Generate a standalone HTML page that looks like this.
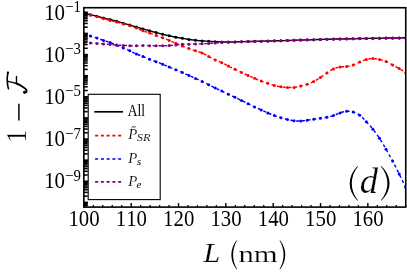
<!DOCTYPE html>
<html><head><meta charset="utf-8"><title>plot</title>
<style>html,body{margin:0;padding:0;background:#fff;font-family:"Liberation Serif",serif}svg{display:block;will-change:transform}</style>
</head><body>
<svg width="407" height="275" viewBox="0 0 407 275" font-family="Liberation Serif" style="display:block">
<rect width="407" height="275" fill="#fff"/>
<clipPath id="c"><rect x="83.85" y="7.72" width="321.9" height="199.38"/></clipPath>
<g clip-path="url(#c)">
<polyline points="83.85,13.00 84.51,13.18 85.16,13.36 85.82,13.54 86.48,13.71 87.13,13.88 87.79,14.05 88.45,14.21 89.11,14.38 89.76,14.54 90.42,14.70 91.08,14.86 91.73,15.02 92.39,15.18 93.05,15.33 93.70,15.49 94.36,15.65 95.02,15.81 95.67,15.97 96.33,16.14 96.99,16.30 97.65,16.47 98.30,16.63 98.96,16.80 99.62,16.98 100.27,17.15 100.93,17.32 101.59,17.49 102.24,17.66 102.90,17.83 103.56,18.00 104.22,18.17 104.87,18.33 105.53,18.50 106.19,18.66 106.84,18.82 107.50,18.98 108.16,19.14 108.81,19.29 109.47,19.45 110.13,19.60 110.78,19.75 111.44,19.90 112.10,20.05 112.76,20.21 113.41,20.36 114.07,20.52 114.73,20.68 115.38,20.85 116.04,21.02 116.70,21.20 117.35,21.39 118.01,21.58 118.67,21.78 119.32,21.98 119.98,22.18 120.64,22.39 121.30,22.59 121.95,22.80 122.61,23.00 123.27,23.20 123.92,23.40 124.58,23.59 125.24,23.78 125.89,23.97 126.55,24.15 127.21,24.34 127.86,24.53 128.52,24.72 129.18,24.91 129.84,25.10 130.49,25.30 131.15,25.50 131.81,25.70 132.46,25.90 133.12,26.11 133.78,26.31 134.43,26.51 135.09,26.71 135.75,26.91 136.41,27.10 137.06,27.29 137.72,27.47 138.38,27.65 139.03,27.83 139.69,28.01 140.35,28.19 141.00,28.36 141.66,28.54 142.32,28.72 142.97,28.90 143.63,29.08 144.29,29.27 144.95,29.46 145.60,29.65 146.26,29.84 146.92,30.04 147.57,30.23 148.23,30.42 148.89,30.61 149.54,30.80 150.20,30.99 150.86,31.17 151.51,31.35 152.17,31.54 152.83,31.72 153.49,31.89 154.14,32.07 154.80,32.25 155.46,32.42 156.11,32.60 156.77,32.78 157.43,32.95 158.08,33.13 158.74,33.30 159.40,33.47 160.05,33.64 160.71,33.81 161.37,33.98 162.03,34.14 162.68,34.30 163.34,34.46 164.00,34.61 164.65,34.77 165.31,34.92 165.97,35.07 166.62,35.21 167.28,35.36 167.94,35.51 168.60,35.65 169.25,35.80 169.91,35.95 170.57,36.09 171.22,36.24 171.88,36.39 172.54,36.53 173.19,36.67 173.85,36.81 174.51,36.94 175.16,37.07 175.82,37.20 176.48,37.32 177.14,37.44 177.79,37.55 178.45,37.66 179.11,37.77 179.76,37.88 180.42,37.98 181.08,38.09 181.73,38.19 182.39,38.30 183.05,38.41 183.70,38.52 184.36,38.63 185.02,38.74 185.68,38.85 186.33,38.97 186.99,39.08 187.65,39.19 188.30,39.29 188.96,39.40 189.62,39.50 190.27,39.60 190.93,39.70 191.59,39.80 192.24,39.89 192.90,39.98 193.56,40.06 194.22,40.14 194.87,40.22 195.53,40.30 196.19,40.37 196.84,40.44 197.50,40.51 198.16,40.57 198.81,40.64 199.47,40.69 200.13,40.75 200.79,40.80 201.44,40.85 202.10,40.90 202.76,40.94 203.41,40.99 204.07,41.03 204.73,41.07 205.38,41.11 206.04,41.14 206.70,41.18 207.35,41.22 208.01,41.26 208.67,41.30 209.33,41.34 209.98,41.38 210.64,41.43 211.30,41.47 211.95,41.51 212.61,41.55 213.27,41.59 213.92,41.63 214.58,41.67 215.24,41.70 215.89,41.73 216.55,41.76 217.21,41.78 217.87,41.80 218.52,41.82 219.18,41.84 219.84,41.86 220.49,41.87 221.15,41.89 221.81,41.90 222.46,41.91 223.12,41.93 223.78,41.94 224.43,41.96 225.09,41.97 225.75,41.98 226.41,41.99 227.06,41.99 227.72,42.00 228.38,42.00 229.03,42.00 229.69,42.00 230.35,41.99 231.00,41.98 231.66,41.97 232.32,41.96 232.98,41.95 233.63,41.93 234.29,41.92 234.95,41.90 235.60,41.88 236.26,41.86 236.92,41.84 237.57,41.82 238.23,41.80 238.89,41.78 239.54,41.76 240.20,41.74 240.86,41.72 241.52,41.70 242.17,41.68 242.83,41.66 243.49,41.64 244.14,41.62 244.80,41.60 245.46,41.58 246.11,41.56 246.77,41.54 247.43,41.52 248.08,41.50 248.74,41.48 249.40,41.46 250.06,41.45 250.71,41.43 251.37,41.41 252.03,41.39 252.68,41.38 253.34,41.36 254.00,41.34 254.65,41.33 255.31,41.31 255.97,41.29 256.62,41.28 257.28,41.26 257.94,41.25 258.60,41.23 259.25,41.22 259.91,41.20 260.57,41.19 261.22,41.17 261.88,41.16 262.54,41.14 263.19,41.13 263.85,41.11 264.51,41.10 265.17,41.08 265.82,41.07 266.48,41.05 267.14,41.04 267.79,41.02 268.45,41.01 269.11,40.99 269.76,40.98 270.42,40.96 271.08,40.95 271.73,40.93 272.39,40.92 273.05,40.90 273.71,40.89 274.36,40.87 275.02,40.85 275.68,40.84 276.33,40.82 276.99,40.80 277.65,40.79 278.30,40.77 278.96,40.75 279.62,40.74 280.27,40.72 280.93,40.70 281.59,40.68 282.25,40.66 282.90,40.64 283.56,40.62 284.22,40.61 284.87,40.59 285.53,40.57 286.19,40.55 286.84,40.52 287.50,40.50 288.16,40.48 288.81,40.46 289.47,40.44 290.13,40.42 290.79,40.40 291.44,40.38 292.10,40.36 292.76,40.33 293.41,40.31 294.07,40.29 294.73,40.27 295.38,40.25 296.04,40.22 296.70,40.20 297.36,40.18 298.01,40.16 298.67,40.14 299.33,40.11 299.98,40.09 300.64,40.07 301.30,40.05 301.95,40.02 302.61,40.00 303.27,39.98 303.92,39.96 304.58,39.94 305.24,39.91 305.90,39.89 306.55,39.87 307.21,39.85 307.87,39.83 308.52,39.81 309.18,39.79 309.84,39.77 310.49,39.75 311.15,39.72 311.81,39.70 312.46,39.68 313.12,39.66 313.78,39.64 314.44,39.62 315.09,39.60 315.75,39.58 316.41,39.56 317.06,39.55 317.72,39.53 318.38,39.51 319.03,39.49 319.69,39.47 320.35,39.45 321.00,39.43 321.66,39.41 322.32,39.40 322.98,39.38 323.63,39.36 324.29,39.34 324.95,39.32 325.60,39.31 326.26,39.29 326.92,39.27 327.57,39.25 328.23,39.24 328.89,39.22 329.55,39.20 330.20,39.18 330.86,39.17 331.52,39.15 332.17,39.13 332.83,39.12 333.49,39.10 334.14,39.09 334.80,39.07 335.46,39.05 336.11,39.04 336.77,39.02 337.43,39.01 338.09,38.99 338.74,38.98 339.40,38.96 340.06,38.95 340.71,38.93 341.37,38.92 342.03,38.90 342.68,38.89 343.34,38.87 344.00,38.86 344.65,38.84 345.31,38.83 345.97,38.81 346.63,38.80 347.28,38.79 347.94,38.77 348.60,38.76 349.25,38.74 349.91,38.73 350.57,38.72 351.22,38.70 351.88,38.69 352.54,38.68 353.19,38.66 353.85,38.65 354.51,38.64 355.17,38.63 355.82,38.61 356.48,38.60 357.14,38.59 357.79,38.58 358.45,38.56 359.11,38.55 359.76,38.54 360.42,38.53 361.08,38.51 361.74,38.50 362.39,38.49 363.05,38.48 363.71,38.47 364.36,38.45 365.02,38.44 365.68,38.43 366.33,38.42 366.99,38.41 367.65,38.40 368.30,38.38 368.96,38.37 369.62,38.36 370.28,38.35 370.93,38.34 371.59,38.33 372.25,38.32 372.90,38.31 373.56,38.30 374.22,38.29 374.87,38.27 375.53,38.26 376.19,38.25 376.84,38.24 377.50,38.23 378.16,38.22 378.82,38.21 379.47,38.20 380.13,38.19 380.79,38.18 381.44,38.17 382.10,38.16 382.76,38.15 383.41,38.14 384.07,38.13 384.73,38.12 385.38,38.11 386.04,38.10 386.70,38.09 387.36,38.08 388.01,38.07 388.67,38.06 389.33,38.05 389.98,38.04 390.64,38.03 391.30,38.02 391.95,38.01 392.61,38.00 393.27,37.99 393.93,37.98 394.58,37.97 395.24,37.96 395.90,37.95 396.55,37.94 397.21,37.93 397.87,37.92 398.52,37.91 399.18,37.90 399.84,37.89 400.49,37.88 401.15,37.87 401.81,37.86 402.47,37.85 403.12,37.84 403.78,37.83 404.44,37.82 405.09,37.81 405.75,37.80" fill="none" stroke="#000" stroke-width="1.45"/>
<circle cx="83.85" cy="13.00" r="1.5" fill="#000"/>
<circle cx="90.42" cy="14.70" r="1.5" fill="#000"/>
<circle cx="96.99" cy="16.30" r="1.5" fill="#000"/>
<circle cx="103.56" cy="18.00" r="1.5" fill="#000"/>
<circle cx="110.13" cy="19.60" r="1.5" fill="#000"/>
<circle cx="116.70" cy="21.20" r="1.5" fill="#000"/>
<circle cx="123.27" cy="23.20" r="1.5" fill="#000"/>
<circle cx="129.84" cy="25.10" r="1.5" fill="#000"/>
<circle cx="136.41" cy="27.10" r="1.5" fill="#000"/>
<circle cx="142.97" cy="28.90" r="1.5" fill="#000"/>
<circle cx="149.54" cy="30.80" r="1.5" fill="#000"/>
<circle cx="156.11" cy="32.60" r="1.5" fill="#000"/>
<circle cx="162.68" cy="34.30" r="1.5" fill="#000"/>
<circle cx="169.25" cy="35.80" r="1.5" fill="#000"/>
<circle cx="175.82" cy="37.20" r="1.5" fill="#000"/>
<circle cx="182.39" cy="38.30" r="1.5" fill="#000"/>
<circle cx="188.96" cy="39.40" r="1.5" fill="#000"/>
<circle cx="195.53" cy="40.30" r="1.5" fill="#000"/>
<circle cx="202.10" cy="40.90" r="1.5" fill="#000"/>
<circle cx="208.67" cy="41.30" r="1.5" fill="#000"/>
<circle cx="215.24" cy="41.70" r="1.5" fill="#000"/>
<circle cx="221.81" cy="41.90" r="1.5" fill="#000"/>
<circle cx="228.38" cy="42.00" r="1.5" fill="#000"/>
<circle cx="234.95" cy="41.90" r="1.5" fill="#000"/>
<circle cx="241.52" cy="41.70" r="1.5" fill="#000"/>
<circle cx="248.08" cy="41.50" r="1.5" fill="#000"/>
<circle cx="254.65" cy="41.33" r="1.5" fill="#000"/>
<circle cx="261.22" cy="41.17" r="1.5" fill="#000"/>
<circle cx="267.79" cy="41.02" r="1.5" fill="#000"/>
<circle cx="274.36" cy="40.87" r="1.5" fill="#000"/>
<circle cx="280.93" cy="40.70" r="1.5" fill="#000"/>
<circle cx="287.50" cy="40.50" r="1.5" fill="#000"/>
<circle cx="294.07" cy="40.29" r="1.5" fill="#000"/>
<circle cx="300.64" cy="40.07" r="1.5" fill="#000"/>
<circle cx="307.21" cy="39.85" r="1.5" fill="#000"/>
<circle cx="313.78" cy="39.64" r="1.5" fill="#000"/>
<circle cx="320.35" cy="39.45" r="1.5" fill="#000"/>
<circle cx="326.92" cy="39.27" r="1.5" fill="#000"/>
<circle cx="333.49" cy="39.10" r="1.5" fill="#000"/>
<circle cx="340.06" cy="38.95" r="1.5" fill="#000"/>
<circle cx="346.63" cy="38.80" r="1.5" fill="#000"/>
<circle cx="353.19" cy="38.66" r="1.5" fill="#000"/>
<circle cx="359.76" cy="38.54" r="1.5" fill="#000"/>
<circle cx="366.33" cy="38.42" r="1.5" fill="#000"/>
<circle cx="372.90" cy="38.31" r="1.5" fill="#000"/>
<circle cx="379.47" cy="38.20" r="1.5" fill="#000"/>
<circle cx="386.04" cy="38.10" r="1.5" fill="#000"/>
<circle cx="392.61" cy="38.00" r="1.5" fill="#000"/>
<circle cx="399.18" cy="37.90" r="1.5" fill="#000"/>
<circle cx="405.75" cy="37.80" r="1.5" fill="#000"/>
<polyline points="83.85,13.40 84.51,13.59 85.16,13.77 85.82,13.95 86.48,14.13 87.13,14.30 87.79,14.47 88.45,14.65 89.11,14.81 89.76,14.98 90.42,15.15 91.08,15.32 91.73,15.48 92.39,15.65 93.05,15.82 93.70,15.99 94.36,16.15 95.02,16.33 95.67,16.50 96.33,16.67 96.99,16.85 97.65,17.03 98.30,17.21 98.96,17.40 99.62,17.58 100.27,17.77 100.93,17.96 101.59,18.14 102.24,18.33 102.90,18.52 103.56,18.70 104.22,18.88 104.87,19.06 105.53,19.24 106.19,19.42 106.84,19.60 107.50,19.77 108.16,19.95 108.81,20.12 109.47,20.28 110.13,20.45 110.78,20.61 111.44,20.78 112.10,20.94 112.76,21.10 113.41,21.26 114.07,21.43 114.73,21.59 115.38,21.76 116.04,21.93 116.70,22.10 117.35,22.28 118.01,22.46 118.67,22.64 119.32,22.83 119.98,23.01 120.64,23.20 121.30,23.39 121.95,23.58 122.61,23.77 123.27,23.95 123.92,24.13 124.58,24.31 125.24,24.49 125.89,24.67 126.55,24.86 127.21,25.04 127.86,25.22 128.52,25.41 129.18,25.60 129.84,25.80 130.49,26.00 131.15,26.21 131.81,26.42 132.46,26.64 133.12,26.87 133.78,27.10 134.43,27.34 135.09,27.59 135.75,27.84 136.41,28.10 137.06,28.37 137.72,28.64 138.38,28.92 139.03,29.19 139.69,29.47 140.35,29.75 141.00,30.02 141.66,30.29 142.32,30.55 142.97,30.80 143.63,31.04 144.29,31.27 144.95,31.50 145.60,31.71 146.26,31.93 146.92,32.14 147.57,32.35 148.23,32.56 148.89,32.78 149.54,33.00 150.20,33.23 150.86,33.46 151.51,33.69 152.17,33.93 152.83,34.18 153.49,34.42 154.14,34.67 154.80,34.91 155.46,35.16 156.11,35.40 156.77,35.64 157.43,35.88 158.08,36.12 158.74,36.35 159.40,36.59 160.05,36.83 160.71,37.07 161.37,37.31 162.03,37.55 162.68,37.80 163.34,38.05 164.00,38.30 164.65,38.56 165.31,38.82 165.97,39.09 166.62,39.35 167.28,39.62 167.94,39.89 168.60,40.17 169.25,40.44 169.91,40.72 170.57,41.00 171.22,41.28 171.88,41.56 172.54,41.85 173.19,42.13 173.85,42.41 174.51,42.70 175.16,42.98 175.82,43.26 176.48,43.55 177.14,43.83 177.79,44.11 178.45,44.39 179.11,44.67 179.76,44.95 180.42,45.23 181.08,45.51 181.73,45.78 182.39,46.05 183.05,46.32 183.70,46.58 184.36,46.85 185.02,47.11 185.68,47.37 186.33,47.62 186.99,47.87 187.65,48.12 188.30,48.36 188.96,48.60 189.62,48.84 190.27,49.07 190.93,49.29 191.59,49.52 192.24,49.74 192.90,49.96 193.56,50.17 194.22,50.38 194.87,50.59 195.53,50.80 196.19,51.00 196.84,51.21 197.50,51.41 198.16,51.62 198.81,51.84 199.47,52.06 200.13,52.29 200.79,52.53 201.44,52.78 202.10,53.05 202.76,53.33 203.41,53.63 204.07,53.95 204.73,54.27 205.38,54.61 206.04,54.95 206.70,55.31 207.35,55.67 208.01,56.03 208.67,56.40 209.33,56.77 209.98,57.14 210.64,57.51 211.30,57.88 211.95,58.24 212.61,58.59 213.27,58.94 213.92,59.27 214.58,59.59 215.24,59.90 215.89,60.19 216.55,60.47 217.21,60.74 217.87,61.01 218.52,61.27 219.18,61.53 219.84,61.80 220.49,62.07 221.15,62.35 221.81,62.65 222.46,62.96 223.12,63.29 223.78,63.62 224.43,63.97 225.09,64.32 225.75,64.68 226.41,65.04 227.06,65.40 227.72,65.75 228.38,66.10 229.03,66.44 229.69,66.78 230.35,67.10 231.00,67.43 231.66,67.75 232.32,68.06 232.98,68.37 233.63,68.68 234.29,68.99 234.95,69.30 235.60,69.61 236.26,69.92 236.92,70.23 237.57,70.54 238.23,70.85 238.89,71.16 239.54,71.47 240.20,71.78 240.86,72.09 241.52,72.40 242.17,72.71 242.83,73.01 243.49,73.31 244.14,73.62 244.80,73.92 245.46,74.22 246.11,74.52 246.77,74.81 247.43,75.11 248.08,75.40 248.74,75.69 249.40,75.98 250.06,76.27 250.71,76.56 251.37,76.85 252.03,77.14 252.68,77.43 253.34,77.72 254.00,78.01 254.65,78.30 255.31,78.59 255.97,78.89 256.62,79.18 257.28,79.47 257.94,79.76 258.60,80.04 259.25,80.32 259.91,80.59 260.57,80.85 261.22,81.10 261.88,81.34 262.54,81.58 263.19,81.80 263.85,82.02 264.51,82.24 265.17,82.45 265.82,82.66 266.48,82.87 267.14,83.08 267.79,83.30 268.45,83.52 269.11,83.74 269.76,83.97 270.42,84.19 271.08,84.42 271.73,84.64 272.39,84.85 273.05,85.06 273.71,85.26 274.36,85.45 275.02,85.63 275.68,85.80 276.33,85.96 276.99,86.11 277.65,86.24 278.30,86.37 278.96,86.49 279.62,86.60 280.27,86.71 280.93,86.80 281.59,86.89 282.25,86.97 282.90,87.04 283.56,87.10 284.22,87.16 284.87,87.22 285.53,87.27 286.19,87.32 286.84,87.36 287.50,87.40 288.16,87.44 288.81,87.47 289.47,87.50 290.13,87.52 290.79,87.53 291.44,87.53 292.10,87.52 292.76,87.50 293.41,87.46 294.07,87.40 294.73,87.33 295.38,87.24 296.04,87.13 296.70,87.01 297.36,86.88 298.01,86.74 298.67,86.59 299.33,86.43 299.98,86.27 300.64,86.10 301.30,85.93 301.95,85.76 302.61,85.58 303.27,85.40 303.92,85.21 304.58,85.02 305.24,84.82 305.90,84.62 306.55,84.41 307.21,84.20 307.87,83.98 308.52,83.75 309.18,83.51 309.84,83.26 310.49,83.00 311.15,82.73 311.81,82.45 312.46,82.15 313.12,81.83 313.78,81.50 314.44,81.15 315.09,80.79 315.75,80.41 316.41,80.01 317.06,79.61 317.72,79.19 318.38,78.77 319.03,78.33 319.69,77.89 320.35,77.45 321.00,77.00 321.66,76.55 322.32,76.10 322.98,75.64 323.63,75.19 324.29,74.73 324.95,74.27 325.60,73.81 326.26,73.36 326.92,72.90 327.57,72.45 328.23,72.00 328.89,71.55 329.55,71.12 330.20,70.70 330.86,70.30 331.52,69.92 332.17,69.55 332.83,69.21 333.49,68.90 334.14,68.62 334.80,68.36 335.46,68.13 336.11,67.93 336.77,67.74 337.43,67.58 338.09,67.44 338.74,67.31 339.40,67.20 340.06,67.10 340.71,67.01 341.37,66.94 342.03,66.87 342.68,66.80 343.34,66.74 344.00,66.68 344.65,66.62 345.31,66.55 345.97,66.48 346.63,66.40 347.28,66.31 347.94,66.21 348.60,66.10 349.25,65.98 349.91,65.84 350.57,65.68 351.22,65.52 351.88,65.33 352.54,65.12 353.19,64.90 353.85,64.66 354.51,64.40 355.17,64.12 355.82,63.83 356.48,63.53 357.14,63.23 357.79,62.92 358.45,62.61 359.11,62.30 359.76,62.00 360.42,61.70 361.08,61.41 361.74,61.13 362.39,60.86 363.05,60.60 363.71,60.35 364.36,60.12 365.02,59.90 365.68,59.69 366.33,59.50 366.99,59.33 367.65,59.17 368.30,59.03 368.96,58.91 369.62,58.81 370.28,58.73 370.93,58.67 371.59,58.62 372.25,58.60 372.90,58.60 373.56,58.62 374.22,58.66 374.87,58.72 375.53,58.79 376.19,58.88 376.84,58.98 377.50,59.10 378.16,59.22 378.82,59.36 379.47,59.50 380.13,59.65 380.79,59.81 381.44,59.97 382.10,60.15 382.76,60.34 383.41,60.54 384.07,60.75 384.73,60.98 385.38,61.23 386.04,61.50 386.70,61.79 387.36,62.09 388.01,62.41 388.67,62.74 389.33,63.09 389.98,63.44 390.64,63.80 391.30,64.17 391.95,64.53 392.61,64.90 393.27,65.26 393.93,65.63 394.58,65.99 395.24,66.36 395.90,66.72 396.55,67.09 397.21,67.46 397.87,67.83 398.52,68.21 399.18,68.60 399.84,68.99 400.49,69.39 401.15,69.80 401.81,70.22 402.47,70.65 403.12,71.10 403.78,71.55 404.44,72.02 405.09,72.50 405.75,73.00" fill="none" stroke="#ff0000" stroke-width="1.45" stroke-dasharray="3.05 2.7"/>
<circle cx="83.85" cy="13.40" r="1.5" fill="#ff0000"/>
<circle cx="90.42" cy="15.15" r="1.5" fill="#ff0000"/>
<circle cx="96.99" cy="16.85" r="1.5" fill="#ff0000"/>
<circle cx="103.56" cy="18.70" r="1.5" fill="#ff0000"/>
<circle cx="110.13" cy="20.45" r="1.5" fill="#ff0000"/>
<circle cx="116.70" cy="22.10" r="1.5" fill="#ff0000"/>
<circle cx="123.27" cy="23.95" r="1.5" fill="#ff0000"/>
<circle cx="129.84" cy="25.80" r="1.5" fill="#ff0000"/>
<circle cx="136.41" cy="28.10" r="1.5" fill="#ff0000"/>
<circle cx="142.97" cy="30.80" r="1.5" fill="#ff0000"/>
<circle cx="149.54" cy="33.00" r="1.5" fill="#ff0000"/>
<circle cx="156.11" cy="35.40" r="1.5" fill="#ff0000"/>
<circle cx="162.68" cy="37.80" r="1.5" fill="#ff0000"/>
<circle cx="169.25" cy="40.44" r="1.5" fill="#ff0000"/>
<circle cx="175.82" cy="43.26" r="1.5" fill="#ff0000"/>
<circle cx="182.39" cy="46.05" r="1.5" fill="#ff0000"/>
<circle cx="188.96" cy="48.60" r="1.5" fill="#ff0000"/>
<circle cx="195.53" cy="50.80" r="1.5" fill="#ff0000"/>
<circle cx="202.10" cy="53.05" r="1.5" fill="#ff0000"/>
<circle cx="208.67" cy="56.40" r="1.5" fill="#ff0000"/>
<circle cx="215.24" cy="59.90" r="1.5" fill="#ff0000"/>
<circle cx="221.81" cy="62.65" r="1.5" fill="#ff0000"/>
<circle cx="228.38" cy="66.10" r="1.5" fill="#ff0000"/>
<circle cx="234.95" cy="69.30" r="1.5" fill="#ff0000"/>
<circle cx="241.52" cy="72.40" r="1.5" fill="#ff0000"/>
<circle cx="248.08" cy="75.40" r="1.5" fill="#ff0000"/>
<circle cx="254.65" cy="78.30" r="1.5" fill="#ff0000"/>
<circle cx="261.22" cy="81.10" r="1.5" fill="#ff0000"/>
<circle cx="267.79" cy="83.30" r="1.5" fill="#ff0000"/>
<circle cx="274.36" cy="85.45" r="1.5" fill="#ff0000"/>
<circle cx="280.93" cy="86.80" r="1.5" fill="#ff0000"/>
<circle cx="287.50" cy="87.40" r="1.5" fill="#ff0000"/>
<circle cx="294.07" cy="87.40" r="1.5" fill="#ff0000"/>
<circle cx="300.64" cy="86.10" r="1.5" fill="#ff0000"/>
<circle cx="307.21" cy="84.20" r="1.5" fill="#ff0000"/>
<circle cx="313.78" cy="81.50" r="1.5" fill="#ff0000"/>
<circle cx="320.35" cy="77.45" r="1.5" fill="#ff0000"/>
<circle cx="326.92" cy="72.90" r="1.5" fill="#ff0000"/>
<circle cx="333.49" cy="68.90" r="1.5" fill="#ff0000"/>
<circle cx="340.06" cy="67.10" r="1.5" fill="#ff0000"/>
<circle cx="346.63" cy="66.40" r="1.5" fill="#ff0000"/>
<circle cx="353.19" cy="64.90" r="1.5" fill="#ff0000"/>
<circle cx="359.76" cy="62.00" r="1.5" fill="#ff0000"/>
<circle cx="366.33" cy="59.50" r="1.5" fill="#ff0000"/>
<circle cx="372.90" cy="58.60" r="1.5" fill="#ff0000"/>
<circle cx="379.47" cy="59.50" r="1.5" fill="#ff0000"/>
<circle cx="386.04" cy="61.50" r="1.5" fill="#ff0000"/>
<circle cx="392.61" cy="64.90" r="1.5" fill="#ff0000"/>
<circle cx="399.18" cy="68.60" r="1.5" fill="#ff0000"/>
<circle cx="405.75" cy="73.00" r="1.5" fill="#ff0000"/>
<polyline points="83.85,33.80 84.51,34.07 85.16,34.33 85.82,34.58 86.48,34.82 87.13,35.05 87.79,35.27 88.45,35.49 89.11,35.70 89.76,35.90 90.42,36.10 91.08,36.30 91.73,36.49 92.39,36.68 93.05,36.88 93.70,37.07 94.36,37.27 95.02,37.47 95.67,37.67 96.33,37.88 96.99,38.10 97.65,38.32 98.30,38.55 98.96,38.78 99.62,39.02 100.27,39.26 100.93,39.49 101.59,39.73 102.24,39.96 102.90,40.18 103.56,40.40 104.22,40.61 104.87,40.81 105.53,41.01 106.19,41.21 106.84,41.41 107.50,41.61 108.16,41.82 108.81,42.04 109.47,42.26 110.13,42.50 110.78,42.75 111.44,43.02 112.10,43.29 112.76,43.57 113.41,43.86 114.07,44.15 114.73,44.44 115.38,44.73 116.04,45.02 116.70,45.30 117.35,45.57 118.01,45.84 118.67,46.11 119.32,46.36 119.98,46.62 120.64,46.87 121.30,47.13 121.95,47.38 122.61,47.64 123.27,47.90 123.92,48.16 124.58,48.43 125.24,48.71 125.89,48.99 126.55,49.28 127.21,49.57 127.86,49.87 128.52,50.17 129.18,50.48 129.84,50.80 130.49,51.12 131.15,51.45 131.81,51.79 132.46,52.12 133.12,52.45 133.78,52.78 134.43,53.10 135.09,53.41 135.75,53.71 136.41,54.00 137.06,54.28 137.72,54.54 138.38,54.79 139.03,55.04 139.69,55.28 140.35,55.52 141.00,55.76 141.66,56.00 142.32,56.24 142.97,56.50 143.63,56.77 144.29,57.04 144.95,57.32 145.60,57.60 146.26,57.89 146.92,58.18 147.57,58.47 148.23,58.75 148.89,59.03 149.54,59.30 150.20,59.56 150.86,59.82 151.51,60.06 152.17,60.31 152.83,60.54 153.49,60.78 154.14,61.01 154.80,61.24 155.46,61.47 156.11,61.70 156.77,61.93 157.43,62.17 158.08,62.41 158.74,62.65 159.40,62.89 160.05,63.14 160.71,63.40 161.37,63.66 162.03,63.93 162.68,64.20 163.34,64.48 164.00,64.76 164.65,65.05 165.31,65.35 165.97,65.64 166.62,65.94 167.28,66.23 167.94,66.52 168.60,66.81 169.25,67.10 169.91,67.38 170.57,67.66 171.22,67.93 171.88,68.20 172.54,68.47 173.19,68.73 173.85,69.00 174.51,69.26 175.16,69.53 175.82,69.80 176.48,70.07 177.14,70.34 177.79,70.62 178.45,70.90 179.11,71.18 179.76,71.46 180.42,71.74 181.08,72.03 181.73,72.31 182.39,72.60 183.05,72.89 183.70,73.18 184.36,73.47 185.02,73.76 185.68,74.05 186.33,74.34 186.99,74.63 187.65,74.92 188.30,75.21 188.96,75.50 189.62,75.79 190.27,76.07 190.93,76.36 191.59,76.65 192.24,76.94 192.90,77.23 193.56,77.52 194.22,77.81 194.87,78.10 195.53,78.40 196.19,78.70 196.84,79.00 197.50,79.31 198.16,79.62 198.81,79.93 199.47,80.24 200.13,80.56 200.79,80.87 201.44,81.18 202.10,81.50 202.76,81.82 203.41,82.13 204.07,82.45 204.73,82.76 205.38,83.08 206.04,83.40 206.70,83.72 207.35,84.05 208.01,84.37 208.67,84.70 209.33,85.03 209.98,85.36 210.64,85.70 211.30,86.03 211.95,86.36 212.61,86.69 213.27,87.03 213.92,87.35 214.58,87.68 215.24,88.00 215.89,88.32 216.55,88.63 217.21,88.94 217.87,89.25 218.52,89.55 219.18,89.86 219.84,90.17 220.49,90.48 221.15,90.79 221.81,91.10 222.46,91.42 223.12,91.74 223.78,92.06 224.43,92.38 225.09,92.71 225.75,93.03 226.41,93.35 227.06,93.67 227.72,93.99 228.38,94.30 229.03,94.61 229.69,94.91 230.35,95.21 231.00,95.50 231.66,95.80 232.32,96.10 232.98,96.39 233.63,96.69 234.29,96.99 234.95,97.30 235.60,97.61 236.26,97.93 236.92,98.25 237.57,98.57 238.23,98.89 238.89,99.21 239.54,99.54 240.20,99.86 240.86,100.18 241.52,100.50 242.17,100.81 242.83,101.13 243.49,101.44 244.14,101.75 244.80,102.06 245.46,102.37 246.11,102.68 246.77,103.00 247.43,103.32 248.08,103.65 248.74,103.98 249.40,104.32 250.06,104.66 250.71,105.00 251.37,105.35 252.03,105.69 252.68,106.02 253.34,106.36 254.00,106.68 254.65,107.00 255.31,107.31 255.97,107.61 256.62,107.90 257.28,108.19 257.94,108.48 258.60,108.76 259.25,109.04 259.91,109.32 260.57,109.61 261.22,109.90 261.88,110.19 262.54,110.49 263.19,110.80 263.85,111.10 264.51,111.41 265.17,111.71 265.82,112.01 266.48,112.31 267.14,112.61 267.79,112.90 268.45,113.18 269.11,113.46 269.76,113.73 270.42,114.00 271.08,114.26 271.73,114.52 272.39,114.77 273.05,115.02 273.71,115.26 274.36,115.50 275.02,115.74 275.68,115.97 276.33,116.20 276.99,116.42 277.65,116.64 278.30,116.86 278.96,117.08 279.62,117.29 280.27,117.50 280.93,117.70 281.59,117.90 282.25,118.10 282.90,118.29 283.56,118.48 284.22,118.66 284.87,118.84 285.53,119.01 286.19,119.18 286.84,119.34 287.50,119.50 288.16,119.65 288.81,119.80 289.47,119.93 290.13,120.07 290.79,120.19 291.44,120.31 292.10,120.42 292.76,120.52 293.41,120.61 294.07,120.70 294.73,120.78 295.38,120.85 296.04,120.91 296.70,120.95 297.36,120.99 298.01,121.02 298.67,121.03 299.33,121.04 299.98,121.03 300.64,121.00 301.30,120.96 301.95,120.91 302.61,120.84 303.27,120.77 303.92,120.69 304.58,120.60 305.24,120.50 305.90,120.40 306.55,120.30 307.21,120.20 307.87,120.10 308.52,119.99 309.18,119.89 309.84,119.79 310.49,119.69 311.15,119.59 311.81,119.49 312.46,119.39 313.12,119.30 313.78,119.20 314.44,119.11 315.09,119.01 315.75,118.92 316.41,118.83 317.06,118.74 317.72,118.65 318.38,118.56 319.03,118.47 319.69,118.39 320.35,118.30 321.00,118.21 321.66,118.13 322.32,118.04 322.98,117.95 323.63,117.85 324.29,117.76 324.95,117.65 325.60,117.54 326.26,117.43 326.92,117.30 327.57,117.17 328.23,117.02 328.89,116.87 329.55,116.71 330.20,116.53 330.86,116.35 331.52,116.15 332.17,115.95 332.83,115.73 333.49,115.50 334.14,115.26 334.80,115.01 335.46,114.75 336.11,114.48 336.77,114.22 337.43,113.95 338.09,113.68 338.74,113.41 339.40,113.15 340.06,112.90 340.71,112.66 341.37,112.42 342.03,112.21 342.68,112.00 343.34,111.82 344.00,111.65 344.65,111.51 345.31,111.40 345.97,111.31 346.63,111.25 347.28,111.22 347.94,111.22 348.60,111.25 349.25,111.31 349.91,111.39 350.57,111.49 351.22,111.62 351.88,111.76 352.54,111.92 353.19,112.10 353.85,112.29 354.51,112.50 355.17,112.73 355.82,112.98 356.48,113.26 357.14,113.58 357.79,113.92 358.45,114.31 359.11,114.73 359.76,115.20 360.42,115.72 361.08,116.28 361.74,116.87 362.39,117.50 363.05,118.16 363.71,118.84 364.36,119.54 365.02,120.26 365.68,120.98 366.33,121.70 366.99,122.42 367.65,123.15 368.30,123.87 368.96,124.60 369.62,125.34 370.28,126.09 370.93,126.84 371.59,127.61 372.25,128.40 372.90,129.20 373.56,130.02 374.22,130.86 374.87,131.72 375.53,132.60 376.19,133.50 376.84,134.42 377.50,135.36 378.16,136.32 378.82,137.30 379.47,138.30 380.13,139.32 380.79,140.36 381.44,141.42 382.10,142.49 382.76,143.58 383.41,144.68 384.07,145.80 384.73,146.92 385.38,148.06 386.04,149.20 386.70,150.35 387.36,151.51 388.01,152.68 388.67,153.85 389.33,155.03 389.98,156.23 390.64,157.43 391.30,158.64 391.95,159.87 392.61,161.10 393.27,162.35 393.93,163.60 394.58,164.87 395.24,166.15 395.90,167.44 396.55,168.74 397.21,170.04 397.87,171.35 398.52,172.67 399.18,174.00 399.84,175.33 400.49,176.67 401.15,178.01 401.81,179.36 402.47,180.71 403.12,182.06 403.78,183.42 404.44,184.78 405.09,186.14 405.75,187.50" fill="none" stroke="#0000ff" stroke-width="1.45" stroke-dasharray="3.05 2.7"/>
<circle cx="83.85" cy="33.80" r="1.5" fill="#0000ff"/>
<circle cx="90.42" cy="36.10" r="1.5" fill="#0000ff"/>
<circle cx="96.99" cy="38.10" r="1.5" fill="#0000ff"/>
<circle cx="103.56" cy="40.40" r="1.5" fill="#0000ff"/>
<circle cx="110.13" cy="42.50" r="1.5" fill="#0000ff"/>
<circle cx="116.70" cy="45.30" r="1.5" fill="#0000ff"/>
<circle cx="123.27" cy="47.90" r="1.5" fill="#0000ff"/>
<circle cx="129.84" cy="50.80" r="1.5" fill="#0000ff"/>
<circle cx="136.41" cy="54.00" r="1.5" fill="#0000ff"/>
<circle cx="142.97" cy="56.50" r="1.5" fill="#0000ff"/>
<circle cx="149.54" cy="59.30" r="1.5" fill="#0000ff"/>
<circle cx="156.11" cy="61.70" r="1.5" fill="#0000ff"/>
<circle cx="162.68" cy="64.20" r="1.5" fill="#0000ff"/>
<circle cx="169.25" cy="67.10" r="1.5" fill="#0000ff"/>
<circle cx="175.82" cy="69.80" r="1.5" fill="#0000ff"/>
<circle cx="182.39" cy="72.60" r="1.5" fill="#0000ff"/>
<circle cx="188.96" cy="75.50" r="1.5" fill="#0000ff"/>
<circle cx="195.53" cy="78.40" r="1.5" fill="#0000ff"/>
<circle cx="202.10" cy="81.50" r="1.5" fill="#0000ff"/>
<circle cx="208.67" cy="84.70" r="1.5" fill="#0000ff"/>
<circle cx="215.24" cy="88.00" r="1.5" fill="#0000ff"/>
<circle cx="221.81" cy="91.10" r="1.5" fill="#0000ff"/>
<circle cx="228.38" cy="94.30" r="1.5" fill="#0000ff"/>
<circle cx="234.95" cy="97.30" r="1.5" fill="#0000ff"/>
<circle cx="241.52" cy="100.50" r="1.5" fill="#0000ff"/>
<circle cx="248.08" cy="103.65" r="1.5" fill="#0000ff"/>
<circle cx="254.65" cy="107.00" r="1.5" fill="#0000ff"/>
<circle cx="261.22" cy="109.90" r="1.5" fill="#0000ff"/>
<circle cx="267.79" cy="112.90" r="1.5" fill="#0000ff"/>
<circle cx="274.36" cy="115.50" r="1.5" fill="#0000ff"/>
<circle cx="280.93" cy="117.70" r="1.5" fill="#0000ff"/>
<circle cx="287.50" cy="119.50" r="1.5" fill="#0000ff"/>
<circle cx="294.07" cy="120.70" r="1.5" fill="#0000ff"/>
<circle cx="300.64" cy="121.00" r="1.5" fill="#0000ff"/>
<circle cx="307.21" cy="120.20" r="1.5" fill="#0000ff"/>
<circle cx="313.78" cy="119.20" r="1.5" fill="#0000ff"/>
<circle cx="320.35" cy="118.30" r="1.5" fill="#0000ff"/>
<circle cx="326.92" cy="117.30" r="1.5" fill="#0000ff"/>
<circle cx="333.49" cy="115.50" r="1.5" fill="#0000ff"/>
<circle cx="340.06" cy="112.90" r="1.5" fill="#0000ff"/>
<circle cx="346.63" cy="111.25" r="1.5" fill="#0000ff"/>
<circle cx="353.19" cy="112.10" r="1.5" fill="#0000ff"/>
<circle cx="359.76" cy="115.20" r="1.5" fill="#0000ff"/>
<circle cx="366.33" cy="121.70" r="1.5" fill="#0000ff"/>
<circle cx="372.90" cy="129.20" r="1.5" fill="#0000ff"/>
<circle cx="379.47" cy="138.30" r="1.5" fill="#0000ff"/>
<circle cx="386.04" cy="149.20" r="1.5" fill="#0000ff"/>
<circle cx="392.61" cy="161.10" r="1.5" fill="#0000ff"/>
<circle cx="399.18" cy="174.00" r="1.5" fill="#0000ff"/>
<circle cx="405.75" cy="187.50" r="1.5" fill="#0000ff"/>
<polyline points="83.85,42.60 84.51,42.64 85.16,42.68 85.82,42.72 86.48,42.76 87.13,42.80 87.79,42.84 88.45,42.88 89.11,42.92 89.76,42.96 90.42,43.00 91.08,43.04 91.73,43.08 92.39,43.12 93.05,43.16 93.70,43.20 94.36,43.25 95.02,43.29 95.67,43.33 96.33,43.37 96.99,43.42 97.65,43.46 98.30,43.51 98.96,43.55 99.62,43.60 100.27,43.65 100.93,43.70 101.59,43.75 102.24,43.80 102.90,43.85 103.56,43.90 104.22,43.95 104.87,44.01 105.53,44.06 106.19,44.12 106.84,44.17 107.50,44.23 108.16,44.29 108.81,44.34 109.47,44.40 110.13,44.46 110.78,44.52 111.44,44.57 112.10,44.63 112.76,44.68 113.41,44.74 114.07,44.79 114.73,44.85 115.38,44.90 116.04,44.95 116.70,45.00 117.35,45.05 118.01,45.10 118.67,45.14 119.32,45.18 119.98,45.23 120.64,45.27 121.30,45.31 121.95,45.34 122.61,45.38 123.27,45.41 123.92,45.45 124.58,45.48 125.24,45.51 125.89,45.53 126.55,45.56 127.21,45.58 127.86,45.60 128.52,45.62 129.18,45.64 129.84,45.66 130.49,45.67 131.15,45.68 131.81,45.69 132.46,45.70 133.12,45.70 133.78,45.71 134.43,45.71 135.09,45.71 135.75,45.71 136.41,45.70 137.06,45.69 137.72,45.68 138.38,45.67 139.03,45.66 139.69,45.65 140.35,45.64 141.00,45.63 141.66,45.62 142.32,45.61 142.97,45.60 143.63,45.60 144.29,45.59 144.95,45.59 145.60,45.60 146.26,45.60 146.92,45.61 147.57,45.61 148.23,45.62 148.89,45.63 149.54,45.64 150.20,45.65 150.86,45.66 151.51,45.68 152.17,45.69 152.83,45.70 153.49,45.71 154.14,45.73 154.80,45.74 155.46,45.75 156.11,45.76 156.77,45.77 157.43,45.78 158.08,45.79 158.74,45.80 159.40,45.81 160.05,45.81 160.71,45.81 161.37,45.81 162.03,45.81 162.68,45.81 163.34,45.80 164.00,45.79 164.65,45.78 165.31,45.77 165.97,45.75 166.62,45.73 167.28,45.70 167.94,45.67 168.60,45.64 169.25,45.61 169.91,45.57 170.57,45.52 171.22,45.47 171.88,45.42 172.54,45.36 173.19,45.30 173.85,45.23 174.51,45.16 175.16,45.08 175.82,45.00 176.48,44.91 177.14,44.82 177.79,44.72 178.45,44.63 179.11,44.54 179.76,44.45 180.42,44.38 181.08,44.30 181.73,44.25 182.39,44.20 183.05,44.17 183.70,44.15 184.36,44.14 185.02,44.14 185.68,44.15 186.33,44.16 186.99,44.17 187.65,44.19 188.30,44.20 188.96,44.20 189.62,44.20 190.27,44.19 190.93,44.17 191.59,44.15 192.24,44.13 192.90,44.11 193.56,44.08 194.22,44.05 194.87,44.03 195.53,44.00 196.19,43.98 196.84,43.95 197.50,43.93 198.16,43.91 198.81,43.90 199.47,43.88 200.13,43.86 200.79,43.84 201.44,43.82 202.10,43.80 202.76,43.78 203.41,43.75 204.07,43.73 204.73,43.70 205.38,43.67 206.04,43.64 206.70,43.61 207.35,43.58 208.01,43.54 208.67,43.50 209.33,43.46 209.98,43.41 210.64,43.37 211.30,43.32 211.95,43.27 212.61,43.22 213.27,43.17 213.92,43.12 214.58,43.07 215.24,43.01 215.89,42.96 216.55,42.91 217.21,42.85 217.87,42.80 218.52,42.75 219.18,42.70 219.84,42.64 220.49,42.59 221.15,42.55 221.81,42.50 222.46,42.46 223.12,42.41 223.78,42.37 224.43,42.33 225.09,42.29 225.75,42.26 226.41,42.22 227.06,42.19 227.72,42.16 228.38,42.13 229.03,42.10 229.69,42.07 230.35,42.04 231.00,42.02 231.66,41.99 232.32,41.97 232.98,41.95 233.63,41.93 234.29,41.91 234.95,41.89 235.60,41.87 236.26,41.85 236.92,41.83 237.57,41.82 238.23,41.80 238.89,41.78 239.54,41.77 240.20,41.75 240.86,41.74 241.52,41.73 242.17,41.71 242.83,41.70 243.49,41.69 244.14,41.68 244.80,41.66 245.46,41.65 246.11,41.64 246.77,41.63 247.43,41.61 248.08,41.60 248.74,41.59 249.40,41.57 250.06,41.56 250.71,41.55 251.37,41.53 252.03,41.52 252.68,41.51 253.34,41.49 254.00,41.48 254.65,41.46 255.31,41.45 255.97,41.43 256.62,41.42 257.28,41.40 257.94,41.39 258.60,41.37 259.25,41.36 259.91,41.34 260.57,41.32 261.22,41.31 261.88,41.29 262.54,41.27 263.19,41.26 263.85,41.24 264.51,41.22 265.17,41.21 265.82,41.19 266.48,41.17 267.14,41.15 267.79,41.14 268.45,41.12 269.11,41.10 269.76,41.08 270.42,41.06 271.08,41.04 271.73,41.03 272.39,41.01 273.05,40.99 273.71,40.97 274.36,40.95 275.02,40.93 275.68,40.91 276.33,40.89 276.99,40.87 277.65,40.85 278.30,40.83 278.96,40.81 279.62,40.79 280.27,40.77 280.93,40.75 281.59,40.73 282.25,40.71 282.90,40.69 283.56,40.67 284.22,40.65 284.87,40.62 285.53,40.60 286.19,40.58 286.84,40.56 287.50,40.54 288.16,40.52 288.81,40.50 289.47,40.48 290.13,40.45 290.79,40.43 291.44,40.41 292.10,40.39 292.76,40.37 293.41,40.35 294.07,40.32 294.73,40.30 295.38,40.28 296.04,40.26 296.70,40.24 297.36,40.22 298.01,40.19 298.67,40.17 299.33,40.15 299.98,40.13 300.64,40.11 301.30,40.09 301.95,40.07 302.61,40.05 303.27,40.02 303.92,40.00 304.58,39.98 305.24,39.96 305.90,39.94 306.55,39.92 307.21,39.90 307.87,39.88 308.52,39.86 309.18,39.84 309.84,39.82 310.49,39.80 311.15,39.78 311.81,39.76 312.46,39.74 313.12,39.72 313.78,39.70 314.44,39.68 315.09,39.67 315.75,39.65 316.41,39.63 317.06,39.61 317.72,39.59 318.38,39.57 319.03,39.55 319.69,39.54 320.35,39.52 321.00,39.50 321.66,39.48 322.32,39.47 322.98,39.45 323.63,39.43 324.29,39.41 324.95,39.40 325.60,39.38 326.26,39.36 326.92,39.35 327.57,39.33 328.23,39.31 328.89,39.30 329.55,39.28 330.20,39.26 330.86,39.25 331.52,39.23 332.17,39.22 332.83,39.20 333.49,39.19 334.14,39.17 334.80,39.16 335.46,39.14 336.11,39.13 336.77,39.11 337.43,39.10 338.09,39.08 338.74,39.07 339.40,39.05 340.06,39.04 340.71,39.02 341.37,39.01 342.03,39.00 342.68,38.98 343.34,38.97 344.00,38.95 344.65,38.94 345.31,38.93 345.97,38.91 346.63,38.90 347.28,38.89 347.94,38.87 348.60,38.86 349.25,38.85 349.91,38.84 350.57,38.82 351.22,38.81 351.88,38.80 352.54,38.79 353.19,38.77 353.85,38.76 354.51,38.75 355.17,38.74 355.82,38.73 356.48,38.71 357.14,38.70 357.79,38.69 358.45,38.68 359.11,38.67 359.76,38.66 360.42,38.64 361.08,38.63 361.74,38.62 362.39,38.61 363.05,38.60 363.71,38.59 364.36,38.58 365.02,38.57 365.68,38.56 366.33,38.55 366.99,38.54 367.65,38.53 368.30,38.52 368.96,38.51 369.62,38.50 370.28,38.49 370.93,38.48 371.59,38.47 372.25,38.46 372.90,38.45 373.56,38.44 374.22,38.43 374.87,38.42 375.53,38.41 376.19,38.40 376.84,38.39 377.50,38.38 378.16,38.37 378.82,38.36 379.47,38.35 380.13,38.34 380.79,38.33 381.44,38.32 382.10,38.31 382.76,38.30 383.41,38.29 384.07,38.29 384.73,38.28 385.38,38.27 386.04,38.26 386.70,38.25 387.36,38.24 388.01,38.23 388.67,38.22 389.33,38.21 389.98,38.21 390.64,38.20 391.30,38.19 391.95,38.18 392.61,38.17 393.27,38.16 393.93,38.15 394.58,38.15 395.24,38.14 395.90,38.13 396.55,38.12 397.21,38.11 397.87,38.10 398.52,38.09 399.18,38.09 399.84,38.08 400.49,38.07 401.15,38.06 401.81,38.05 402.47,38.04 403.12,38.03 403.78,38.03 404.44,38.02 405.09,38.01 405.75,38.00" fill="none" stroke="#800080" stroke-width="1.45" stroke-dasharray="3.05 2.7"/>
<circle cx="83.85" cy="42.60" r="1.5" fill="#800080"/>
<circle cx="90.42" cy="43.00" r="1.5" fill="#800080"/>
<circle cx="96.99" cy="43.42" r="1.5" fill="#800080"/>
<circle cx="103.56" cy="43.90" r="1.5" fill="#800080"/>
<circle cx="110.13" cy="44.46" r="1.5" fill="#800080"/>
<circle cx="116.70" cy="45.00" r="1.5" fill="#800080"/>
<circle cx="123.27" cy="45.41" r="1.5" fill="#800080"/>
<circle cx="129.84" cy="45.66" r="1.5" fill="#800080"/>
<circle cx="136.41" cy="45.70" r="1.5" fill="#800080"/>
<circle cx="142.97" cy="45.60" r="1.5" fill="#800080"/>
<circle cx="149.54" cy="45.64" r="1.5" fill="#800080"/>
<circle cx="156.11" cy="45.76" r="1.5" fill="#800080"/>
<circle cx="162.68" cy="45.81" r="1.5" fill="#800080"/>
<circle cx="169.25" cy="45.61" r="1.5" fill="#800080"/>
<circle cx="175.82" cy="45.00" r="1.5" fill="#800080"/>
<circle cx="182.39" cy="44.20" r="1.5" fill="#800080"/>
<circle cx="188.96" cy="44.20" r="1.5" fill="#800080"/>
<circle cx="195.53" cy="44.00" r="1.5" fill="#800080"/>
<circle cx="202.10" cy="43.80" r="1.5" fill="#800080"/>
<circle cx="208.67" cy="43.50" r="1.5" fill="#800080"/>
<circle cx="215.24" cy="43.01" r="1.5" fill="#800080"/>
<circle cx="221.81" cy="42.50" r="1.5" fill="#800080"/>
<circle cx="228.38" cy="42.13" r="1.5" fill="#800080"/>
<circle cx="234.95" cy="41.89" r="1.5" fill="#800080"/>
<circle cx="241.52" cy="41.73" r="1.5" fill="#800080"/>
<circle cx="248.08" cy="41.60" r="1.5" fill="#800080"/>
<circle cx="254.65" cy="41.46" r="1.5" fill="#800080"/>
<circle cx="261.22" cy="41.31" r="1.5" fill="#800080"/>
<circle cx="267.79" cy="41.14" r="1.5" fill="#800080"/>
<circle cx="274.36" cy="40.95" r="1.5" fill="#800080"/>
<circle cx="280.93" cy="40.75" r="1.5" fill="#800080"/>
<circle cx="287.50" cy="40.54" r="1.5" fill="#800080"/>
<circle cx="294.07" cy="40.32" r="1.5" fill="#800080"/>
<circle cx="300.64" cy="40.11" r="1.5" fill="#800080"/>
<circle cx="307.21" cy="39.90" r="1.5" fill="#800080"/>
<circle cx="313.78" cy="39.70" r="1.5" fill="#800080"/>
<circle cx="320.35" cy="39.52" r="1.5" fill="#800080"/>
<circle cx="326.92" cy="39.35" r="1.5" fill="#800080"/>
<circle cx="333.49" cy="39.19" r="1.5" fill="#800080"/>
<circle cx="340.06" cy="39.04" r="1.5" fill="#800080"/>
<circle cx="346.63" cy="38.90" r="1.5" fill="#800080"/>
<circle cx="353.19" cy="38.77" r="1.5" fill="#800080"/>
<circle cx="359.76" cy="38.66" r="1.5" fill="#800080"/>
<circle cx="366.33" cy="38.55" r="1.5" fill="#800080"/>
<circle cx="372.90" cy="38.45" r="1.5" fill="#800080"/>
<circle cx="379.47" cy="38.35" r="1.5" fill="#800080"/>
<circle cx="386.04" cy="38.26" r="1.5" fill="#800080"/>
<circle cx="392.61" cy="38.17" r="1.5" fill="#800080"/>
<circle cx="399.18" cy="38.09" r="1.5" fill="#800080"/>
<circle cx="405.75" cy="38.00" r="1.5" fill="#800080"/>
</g>
<line x1="83.85" y1="207.1" x2="83.85" y2="203.05" stroke="#000" stroke-width="1.4"/>
<line x1="93.32" y1="207.1" x2="93.32" y2="205.10" stroke="#000" stroke-width="1.3"/>
<line x1="102.78" y1="207.1" x2="102.78" y2="205.10" stroke="#000" stroke-width="1.3"/>
<line x1="112.25" y1="207.1" x2="112.25" y2="205.10" stroke="#000" stroke-width="1.3"/>
<line x1="121.72" y1="207.1" x2="121.72" y2="205.10" stroke="#000" stroke-width="1.3"/>
<line x1="131.19" y1="207.1" x2="131.19" y2="203.05" stroke="#000" stroke-width="1.4"/>
<line x1="140.65" y1="207.1" x2="140.65" y2="205.10" stroke="#000" stroke-width="1.3"/>
<line x1="150.12" y1="207.1" x2="150.12" y2="205.10" stroke="#000" stroke-width="1.3"/>
<line x1="159.59" y1="207.1" x2="159.59" y2="205.10" stroke="#000" stroke-width="1.3"/>
<line x1="169.05" y1="207.1" x2="169.05" y2="205.10" stroke="#000" stroke-width="1.3"/>
<line x1="178.52" y1="207.1" x2="178.52" y2="203.05" stroke="#000" stroke-width="1.4"/>
<line x1="187.99" y1="207.1" x2="187.99" y2="205.10" stroke="#000" stroke-width="1.3"/>
<line x1="197.45" y1="207.1" x2="197.45" y2="205.10" stroke="#000" stroke-width="1.3"/>
<line x1="206.92" y1="207.1" x2="206.92" y2="205.10" stroke="#000" stroke-width="1.3"/>
<line x1="216.39" y1="207.1" x2="216.39" y2="205.10" stroke="#000" stroke-width="1.3"/>
<line x1="225.85" y1="207.1" x2="225.85" y2="203.05" stroke="#000" stroke-width="1.4"/>
<line x1="235.32" y1="207.1" x2="235.32" y2="205.10" stroke="#000" stroke-width="1.3"/>
<line x1="244.79" y1="207.1" x2="244.79" y2="205.10" stroke="#000" stroke-width="1.3"/>
<line x1="254.26" y1="207.1" x2="254.26" y2="205.10" stroke="#000" stroke-width="1.3"/>
<line x1="263.72" y1="207.1" x2="263.72" y2="205.10" stroke="#000" stroke-width="1.3"/>
<line x1="273.19" y1="207.1" x2="273.19" y2="203.05" stroke="#000" stroke-width="1.4"/>
<line x1="282.66" y1="207.1" x2="282.66" y2="205.10" stroke="#000" stroke-width="1.3"/>
<line x1="292.12" y1="207.1" x2="292.12" y2="205.10" stroke="#000" stroke-width="1.3"/>
<line x1="301.59" y1="207.1" x2="301.59" y2="205.10" stroke="#000" stroke-width="1.3"/>
<line x1="311.06" y1="207.1" x2="311.06" y2="205.10" stroke="#000" stroke-width="1.3"/>
<line x1="320.52" y1="207.1" x2="320.52" y2="203.05" stroke="#000" stroke-width="1.4"/>
<line x1="329.99" y1="207.1" x2="329.99" y2="205.10" stroke="#000" stroke-width="1.3"/>
<line x1="339.46" y1="207.1" x2="339.46" y2="205.10" stroke="#000" stroke-width="1.3"/>
<line x1="348.93" y1="207.1" x2="348.93" y2="205.10" stroke="#000" stroke-width="1.3"/>
<line x1="358.39" y1="207.1" x2="358.39" y2="205.10" stroke="#000" stroke-width="1.3"/>
<line x1="367.86" y1="207.1" x2="367.86" y2="203.05" stroke="#000" stroke-width="1.4"/>
<line x1="377.33" y1="207.1" x2="377.33" y2="205.10" stroke="#000" stroke-width="1.3"/>
<line x1="386.79" y1="207.1" x2="386.79" y2="205.10" stroke="#000" stroke-width="1.3"/>
<line x1="396.26" y1="207.1" x2="396.26" y2="205.10" stroke="#000" stroke-width="1.3"/>
<line x1="405.73" y1="207.1" x2="405.73" y2="205.10" stroke="#000" stroke-width="1.3"/>
<line x1="83.85" y1="205.75" x2="87.75" y2="205.75" stroke="#000" stroke-width="1.55"/>
<line x1="83.85" y1="204.53" x2="87.75" y2="204.53" stroke="#000" stroke-width="1.55"/>
<line x1="83.85" y1="203.45" x2="87.75" y2="203.45" stroke="#000" stroke-width="1.55"/>
<line x1="83.85" y1="202.48" x2="87.95" y2="202.48" stroke="#000" stroke-width="1.7"/>
<line x1="83.85" y1="196.12" x2="87.75" y2="196.12" stroke="#000" stroke-width="1.55"/>
<line x1="83.85" y1="192.40" x2="87.75" y2="192.40" stroke="#000" stroke-width="1.55"/>
<line x1="83.85" y1="189.76" x2="87.75" y2="189.76" stroke="#000" stroke-width="1.55"/>
<line x1="83.85" y1="187.72" x2="87.75" y2="187.72" stroke="#000" stroke-width="1.55"/>
<line x1="83.85" y1="186.05" x2="87.75" y2="186.05" stroke="#000" stroke-width="1.55"/>
<line x1="83.85" y1="184.63" x2="87.75" y2="184.63" stroke="#000" stroke-width="1.55"/>
<line x1="83.85" y1="183.41" x2="87.75" y2="183.41" stroke="#000" stroke-width="1.55"/>
<line x1="83.85" y1="182.33" x2="87.75" y2="182.33" stroke="#000" stroke-width="1.55"/>
<line x1="83.85" y1="181.36" x2="87.95" y2="181.36" stroke="#000" stroke-width="1.7"/>
<line x1="83.85" y1="175.00" x2="87.75" y2="175.00" stroke="#000" stroke-width="1.55"/>
<line x1="83.85" y1="171.28" x2="87.75" y2="171.28" stroke="#000" stroke-width="1.55"/>
<line x1="83.85" y1="168.64" x2="87.75" y2="168.64" stroke="#000" stroke-width="1.55"/>
<line x1="83.85" y1="166.60" x2="87.75" y2="166.60" stroke="#000" stroke-width="1.55"/>
<line x1="83.85" y1="164.93" x2="87.75" y2="164.93" stroke="#000" stroke-width="1.55"/>
<line x1="83.85" y1="163.51" x2="87.75" y2="163.51" stroke="#000" stroke-width="1.55"/>
<line x1="83.85" y1="162.29" x2="87.75" y2="162.29" stroke="#000" stroke-width="1.55"/>
<line x1="83.85" y1="161.21" x2="87.75" y2="161.21" stroke="#000" stroke-width="1.55"/>
<line x1="83.85" y1="160.24" x2="87.95" y2="160.24" stroke="#000" stroke-width="1.7"/>
<line x1="83.85" y1="153.88" x2="87.75" y2="153.88" stroke="#000" stroke-width="1.55"/>
<line x1="83.85" y1="150.16" x2="87.75" y2="150.16" stroke="#000" stroke-width="1.55"/>
<line x1="83.85" y1="147.52" x2="87.75" y2="147.52" stroke="#000" stroke-width="1.55"/>
<line x1="83.85" y1="145.48" x2="87.75" y2="145.48" stroke="#000" stroke-width="1.55"/>
<line x1="83.85" y1="143.81" x2="87.75" y2="143.81" stroke="#000" stroke-width="1.55"/>
<line x1="83.85" y1="142.39" x2="87.75" y2="142.39" stroke="#000" stroke-width="1.55"/>
<line x1="83.85" y1="141.17" x2="87.75" y2="141.17" stroke="#000" stroke-width="1.55"/>
<line x1="83.85" y1="140.09" x2="87.75" y2="140.09" stroke="#000" stroke-width="1.55"/>
<line x1="83.85" y1="139.12" x2="87.95" y2="139.12" stroke="#000" stroke-width="1.7"/>
<line x1="83.85" y1="132.76" x2="87.75" y2="132.76" stroke="#000" stroke-width="1.55"/>
<line x1="83.85" y1="129.04" x2="87.75" y2="129.04" stroke="#000" stroke-width="1.55"/>
<line x1="83.85" y1="126.40" x2="87.75" y2="126.40" stroke="#000" stroke-width="1.55"/>
<line x1="83.85" y1="124.36" x2="87.75" y2="124.36" stroke="#000" stroke-width="1.55"/>
<line x1="83.85" y1="122.69" x2="87.75" y2="122.69" stroke="#000" stroke-width="1.55"/>
<line x1="83.85" y1="121.27" x2="87.75" y2="121.27" stroke="#000" stroke-width="1.55"/>
<line x1="83.85" y1="120.05" x2="87.75" y2="120.05" stroke="#000" stroke-width="1.55"/>
<line x1="83.85" y1="118.97" x2="87.75" y2="118.97" stroke="#000" stroke-width="1.55"/>
<line x1="83.85" y1="118.00" x2="87.95" y2="118.00" stroke="#000" stroke-width="1.7"/>
<line x1="83.85" y1="111.64" x2="87.75" y2="111.64" stroke="#000" stroke-width="1.55"/>
<line x1="83.85" y1="107.92" x2="87.75" y2="107.92" stroke="#000" stroke-width="1.55"/>
<line x1="83.85" y1="105.28" x2="87.75" y2="105.28" stroke="#000" stroke-width="1.55"/>
<line x1="83.85" y1="103.24" x2="87.75" y2="103.24" stroke="#000" stroke-width="1.55"/>
<line x1="83.85" y1="101.57" x2="87.75" y2="101.57" stroke="#000" stroke-width="1.55"/>
<line x1="83.85" y1="100.15" x2="87.75" y2="100.15" stroke="#000" stroke-width="1.55"/>
<line x1="83.85" y1="98.93" x2="87.75" y2="98.93" stroke="#000" stroke-width="1.55"/>
<line x1="83.85" y1="97.85" x2="87.75" y2="97.85" stroke="#000" stroke-width="1.55"/>
<line x1="83.85" y1="96.88" x2="87.95" y2="96.88" stroke="#000" stroke-width="1.7"/>
<line x1="83.85" y1="90.52" x2="87.75" y2="90.52" stroke="#000" stroke-width="1.55"/>
<line x1="83.85" y1="86.80" x2="87.75" y2="86.80" stroke="#000" stroke-width="1.55"/>
<line x1="83.85" y1="84.16" x2="87.75" y2="84.16" stroke="#000" stroke-width="1.55"/>
<line x1="83.85" y1="82.12" x2="87.75" y2="82.12" stroke="#000" stroke-width="1.55"/>
<line x1="83.85" y1="80.45" x2="87.75" y2="80.45" stroke="#000" stroke-width="1.55"/>
<line x1="83.85" y1="79.03" x2="87.75" y2="79.03" stroke="#000" stroke-width="1.55"/>
<line x1="83.85" y1="77.81" x2="87.75" y2="77.81" stroke="#000" stroke-width="1.55"/>
<line x1="83.85" y1="76.73" x2="87.75" y2="76.73" stroke="#000" stroke-width="1.55"/>
<line x1="83.85" y1="75.76" x2="87.95" y2="75.76" stroke="#000" stroke-width="1.7"/>
<line x1="83.85" y1="69.40" x2="87.75" y2="69.40" stroke="#000" stroke-width="1.55"/>
<line x1="83.85" y1="65.68" x2="87.75" y2="65.68" stroke="#000" stroke-width="1.55"/>
<line x1="83.85" y1="63.04" x2="87.75" y2="63.04" stroke="#000" stroke-width="1.55"/>
<line x1="83.85" y1="61.00" x2="87.75" y2="61.00" stroke="#000" stroke-width="1.55"/>
<line x1="83.85" y1="59.33" x2="87.75" y2="59.33" stroke="#000" stroke-width="1.55"/>
<line x1="83.85" y1="57.91" x2="87.75" y2="57.91" stroke="#000" stroke-width="1.55"/>
<line x1="83.85" y1="56.69" x2="87.75" y2="56.69" stroke="#000" stroke-width="1.55"/>
<line x1="83.85" y1="55.61" x2="87.75" y2="55.61" stroke="#000" stroke-width="1.55"/>
<line x1="83.85" y1="54.64" x2="87.95" y2="54.64" stroke="#000" stroke-width="1.7"/>
<line x1="83.85" y1="48.28" x2="87.75" y2="48.28" stroke="#000" stroke-width="1.55"/>
<line x1="83.85" y1="44.56" x2="87.75" y2="44.56" stroke="#000" stroke-width="1.55"/>
<line x1="83.85" y1="41.92" x2="87.75" y2="41.92" stroke="#000" stroke-width="1.55"/>
<line x1="83.85" y1="39.88" x2="87.75" y2="39.88" stroke="#000" stroke-width="1.55"/>
<line x1="83.85" y1="38.21" x2="87.75" y2="38.21" stroke="#000" stroke-width="1.55"/>
<line x1="83.85" y1="36.79" x2="87.75" y2="36.79" stroke="#000" stroke-width="1.55"/>
<line x1="83.85" y1="35.57" x2="87.75" y2="35.57" stroke="#000" stroke-width="1.55"/>
<line x1="83.85" y1="34.49" x2="87.75" y2="34.49" stroke="#000" stroke-width="1.55"/>
<line x1="83.85" y1="33.52" x2="87.95" y2="33.52" stroke="#000" stroke-width="1.7"/>
<line x1="83.85" y1="27.16" x2="87.75" y2="27.16" stroke="#000" stroke-width="1.55"/>
<line x1="83.85" y1="23.44" x2="87.75" y2="23.44" stroke="#000" stroke-width="1.55"/>
<line x1="83.85" y1="20.80" x2="87.75" y2="20.80" stroke="#000" stroke-width="1.55"/>
<line x1="83.85" y1="18.76" x2="87.75" y2="18.76" stroke="#000" stroke-width="1.55"/>
<line x1="83.85" y1="17.09" x2="87.75" y2="17.09" stroke="#000" stroke-width="1.55"/>
<line x1="83.85" y1="15.67" x2="87.75" y2="15.67" stroke="#000" stroke-width="1.55"/>
<line x1="83.85" y1="14.45" x2="87.75" y2="14.45" stroke="#000" stroke-width="1.55"/>
<line x1="83.85" y1="13.37" x2="87.75" y2="13.37" stroke="#000" stroke-width="1.55"/>
<line x1="83.85" y1="12.40" x2="87.95" y2="12.40" stroke="#000" stroke-width="1.7"/>
<rect x="83.85" y="7.72" width="321.9" height="199.38" fill="none" stroke="#000" stroke-width="1.6"/>
<rect x="88.2" y="94.3" width="71.99999999999999" height="105.3" fill="#fff" stroke="#000" stroke-width="1.1"/>
<line x1="94.3" y1="111.8" x2="123.05" y2="111.8" stroke="#000" stroke-width="1.7"/>
<line x1="95.1" y1="135.6" x2="123" y2="135.6" stroke="#ff0000" stroke-width="1.7" stroke-dasharray="3.05 2.7"/>
<line x1="95.1" y1="159.0" x2="123" y2="159.0" stroke="#0000ff" stroke-width="1.7" stroke-dasharray="3.05 2.7"/>
<line x1="95.1" y1="181.8" x2="123" y2="181.8" stroke="#800080" stroke-width="1.7" stroke-dasharray="3.05 2.7"/>
<text transform="matrix(1.0842 0 0 1.2522 127.824 115.700)" font-size="12.5" style="" fill="#000">All</text>
<text transform="matrix(1.1862 0 0 1.2246 128.300 139.150)" font-size="12.5" style="font-style:italic" fill="#000" stroke="#fff" stroke-width="0.12" vector-effect="non-scaling-stroke">P</text>
<path d="M131.9 127.3 C132.5 126.55 133.2 126.55 133.8 126.95 C134.4 127.35 135.1 127.35 135.6 126.6" fill="none" stroke="#000" stroke-width="0.9" stroke-linecap="round"/>
<text transform="matrix(1.3846 0 0 1.1429 136.727 141.257)" font-size="9" style="font-style:italic" fill="#000" stroke="#fff" stroke-width="0.12" vector-effect="non-scaling-stroke">SR</text>
<text transform="matrix(1.1862 0 0 1.2308 128.300 162.700)" font-size="12.5" style="font-style:italic" fill="#000" stroke="#fff" stroke-width="0.12" vector-effect="non-scaling-stroke">P</text>
<text transform="matrix(1.2800 0 0 1.1429 136.640 164.657)" font-size="9" style="font-style:italic" fill="#000">s</text>
<text transform="matrix(1.1862 0 0 1.2246 128.300 185.700)" font-size="12.5" style="font-style:italic" fill="#000" stroke="#fff" stroke-width="0.12" vector-effect="non-scaling-stroke">P</text>
<text transform="matrix(1.2000 0 0 1.1429 136.500 187.657)" font-size="9" style="font-style:italic" fill="#000">e</text>
<path d="M357.30 166.30 C347.17 176.59 347.17 190.31 357.30 200.60 L358.10 200.60 C349.70 190.31 349.70 176.59 358.10 166.30 Z" fill="#000"/>
<text transform="matrix(1.2177 0 0 1.2190 359.835 192.795)" font-size="30" style="font-style:italic" fill="#000" stroke="#fff" stroke-width="0.22" vector-effect="non-scaling-stroke">d</text>
<path d="M381.50 166.30 C392.17 176.59 392.17 190.31 381.50 200.60 L380.70 200.60 C389.63 190.31 389.63 176.59 380.70 166.30 Z" fill="#000"/>
<text transform="matrix(1.0400 0 0 1.1103 68.430 225.611)" font-size="20" style="font-kerning:none" fill="#000">100</text>
<text transform="matrix(1.0400 0 0 1.1103 115.765 225.611)" font-size="20" style="font-kerning:none" fill="#000">110</text>
<text transform="matrix(1.0400 0 0 1.1103 163.100 225.611)" font-size="20" style="font-kerning:none" fill="#000">120</text>
<text transform="matrix(1.0400 0 0 1.1103 210.435 225.611)" font-size="20" style="font-kerning:none" fill="#000">130</text>
<text transform="matrix(1.0400 0 0 1.1103 257.770 225.611)" font-size="20" style="font-kerning:none" fill="#000">140</text>
<text transform="matrix(1.0400 0 0 1.1103 305.105 225.611)" font-size="20" style="font-kerning:none" fill="#000">150</text>
<text transform="matrix(1.0400 0 0 1.1103 352.440 225.611)" font-size="20" style="font-kerning:none" fill="#000">160</text>
<text transform="matrix(1.0457 0 0 1.1103 44.170 19.511)" font-size="20" style="font-kerning:none" fill="#000">10</text>
<text transform="matrix(1.0617 0 0 1.1459 65.204 11.900)" font-size="14" style="font-kerning:none" fill="#000">−1</text>
<text transform="matrix(1.0457 0 0 1.1103 44.170 61.751)" font-size="20" style="font-kerning:none" fill="#000">10</text>
<text transform="matrix(1.0617 0 0 1.1459 65.204 54.140)" font-size="14" style="font-kerning:none" fill="#000">−3</text>
<text transform="matrix(1.0457 0 0 1.1103 44.170 103.991)" font-size="20" style="font-kerning:none" fill="#000">10</text>
<text transform="matrix(1.0617 0 0 1.1459 65.204 96.380)" font-size="14" style="font-kerning:none" fill="#000">−5</text>
<text transform="matrix(1.0457 0 0 1.1103 44.170 146.231)" font-size="20" style="font-kerning:none" fill="#000">10</text>
<text transform="matrix(1.0617 0 0 1.1459 65.204 138.620)" font-size="14" style="font-kerning:none" fill="#000">−7</text>
<text transform="matrix(1.0457 0 0 1.1103 44.170 188.471)" font-size="20" style="font-kerning:none" fill="#000">10</text>
<text transform="matrix(1.0617 0 0 1.1459 65.204 180.860)" font-size="14" style="font-kerning:none" fill="#000">−9</text>
<text transform="matrix(1.0735 0 0 0.9741 203.503 261.500)" font-size="28" style="font-style:italic" fill="#000" stroke="#fff" stroke-width="0.15" vector-effect="non-scaling-stroke">L</text>
<path d="M236.40 240.50 C229.73 249.11 229.73 260.59 236.40 269.20 L237.10 269.20 C231.77 260.59 231.77 249.11 237.10 240.50 Z" fill="#000"/>
<text transform="matrix(1.1814 0 0 0.9224 238.462 261.500)" font-size="26" style="font-kerning:none" fill="#000" stroke="#fff" stroke-width="0.25" vector-effect="non-scaling-stroke">nm</text>
<path d="M280.20 240.50 C287.00 249.11 287.00 260.59 280.20 269.20 L279.50 269.20 C284.97 260.59 284.97 249.11 279.50 240.50 Z" fill="#000"/>
<text transform="translate(26.300 143.030) rotate(-90) scale(0.9722 1.0216)" font-size="28" style="" fill="#000" stroke="#fff" stroke-width="0.2" vector-effect="non-scaling-stroke">1</text>
<line x1="18.9" y1="103.8" x2="18.9" y2="120.4" stroke="#000" stroke-width="1.5"/>
<g fill="none" stroke="#000" stroke-linecap="round" stroke-linejoin="round">
<path d="M7.9 72.6 C7.2 76 7.0 80 7.4 83 C7.6 85.5 8.0 87.5 8.5 88.7" stroke-width="1.6"/>
<circle cx="7.9" cy="72.6" r="0.55" stroke-width="1.3"/>
<path d="M7.6 81.3 C10.5 82 13.5 82.7 16.4 83.5" stroke-width="1.4"/>
<path d="M16.4 83.5 C18.5 84.2 21 85.6 23.4 87.2 C25.3 88.4 26.5 89.4 26.6 90.7 C26.7 92 25.6 92.7 24.5 92.5" stroke-width="1.9"/>
<circle cx="24.5" cy="92.3" r="0.75" stroke-width="1.4"/>
<path d="M16.5 76.5 L16.5 83.4" stroke-width="1.4"/>
</g>
</svg>
</body></html>
